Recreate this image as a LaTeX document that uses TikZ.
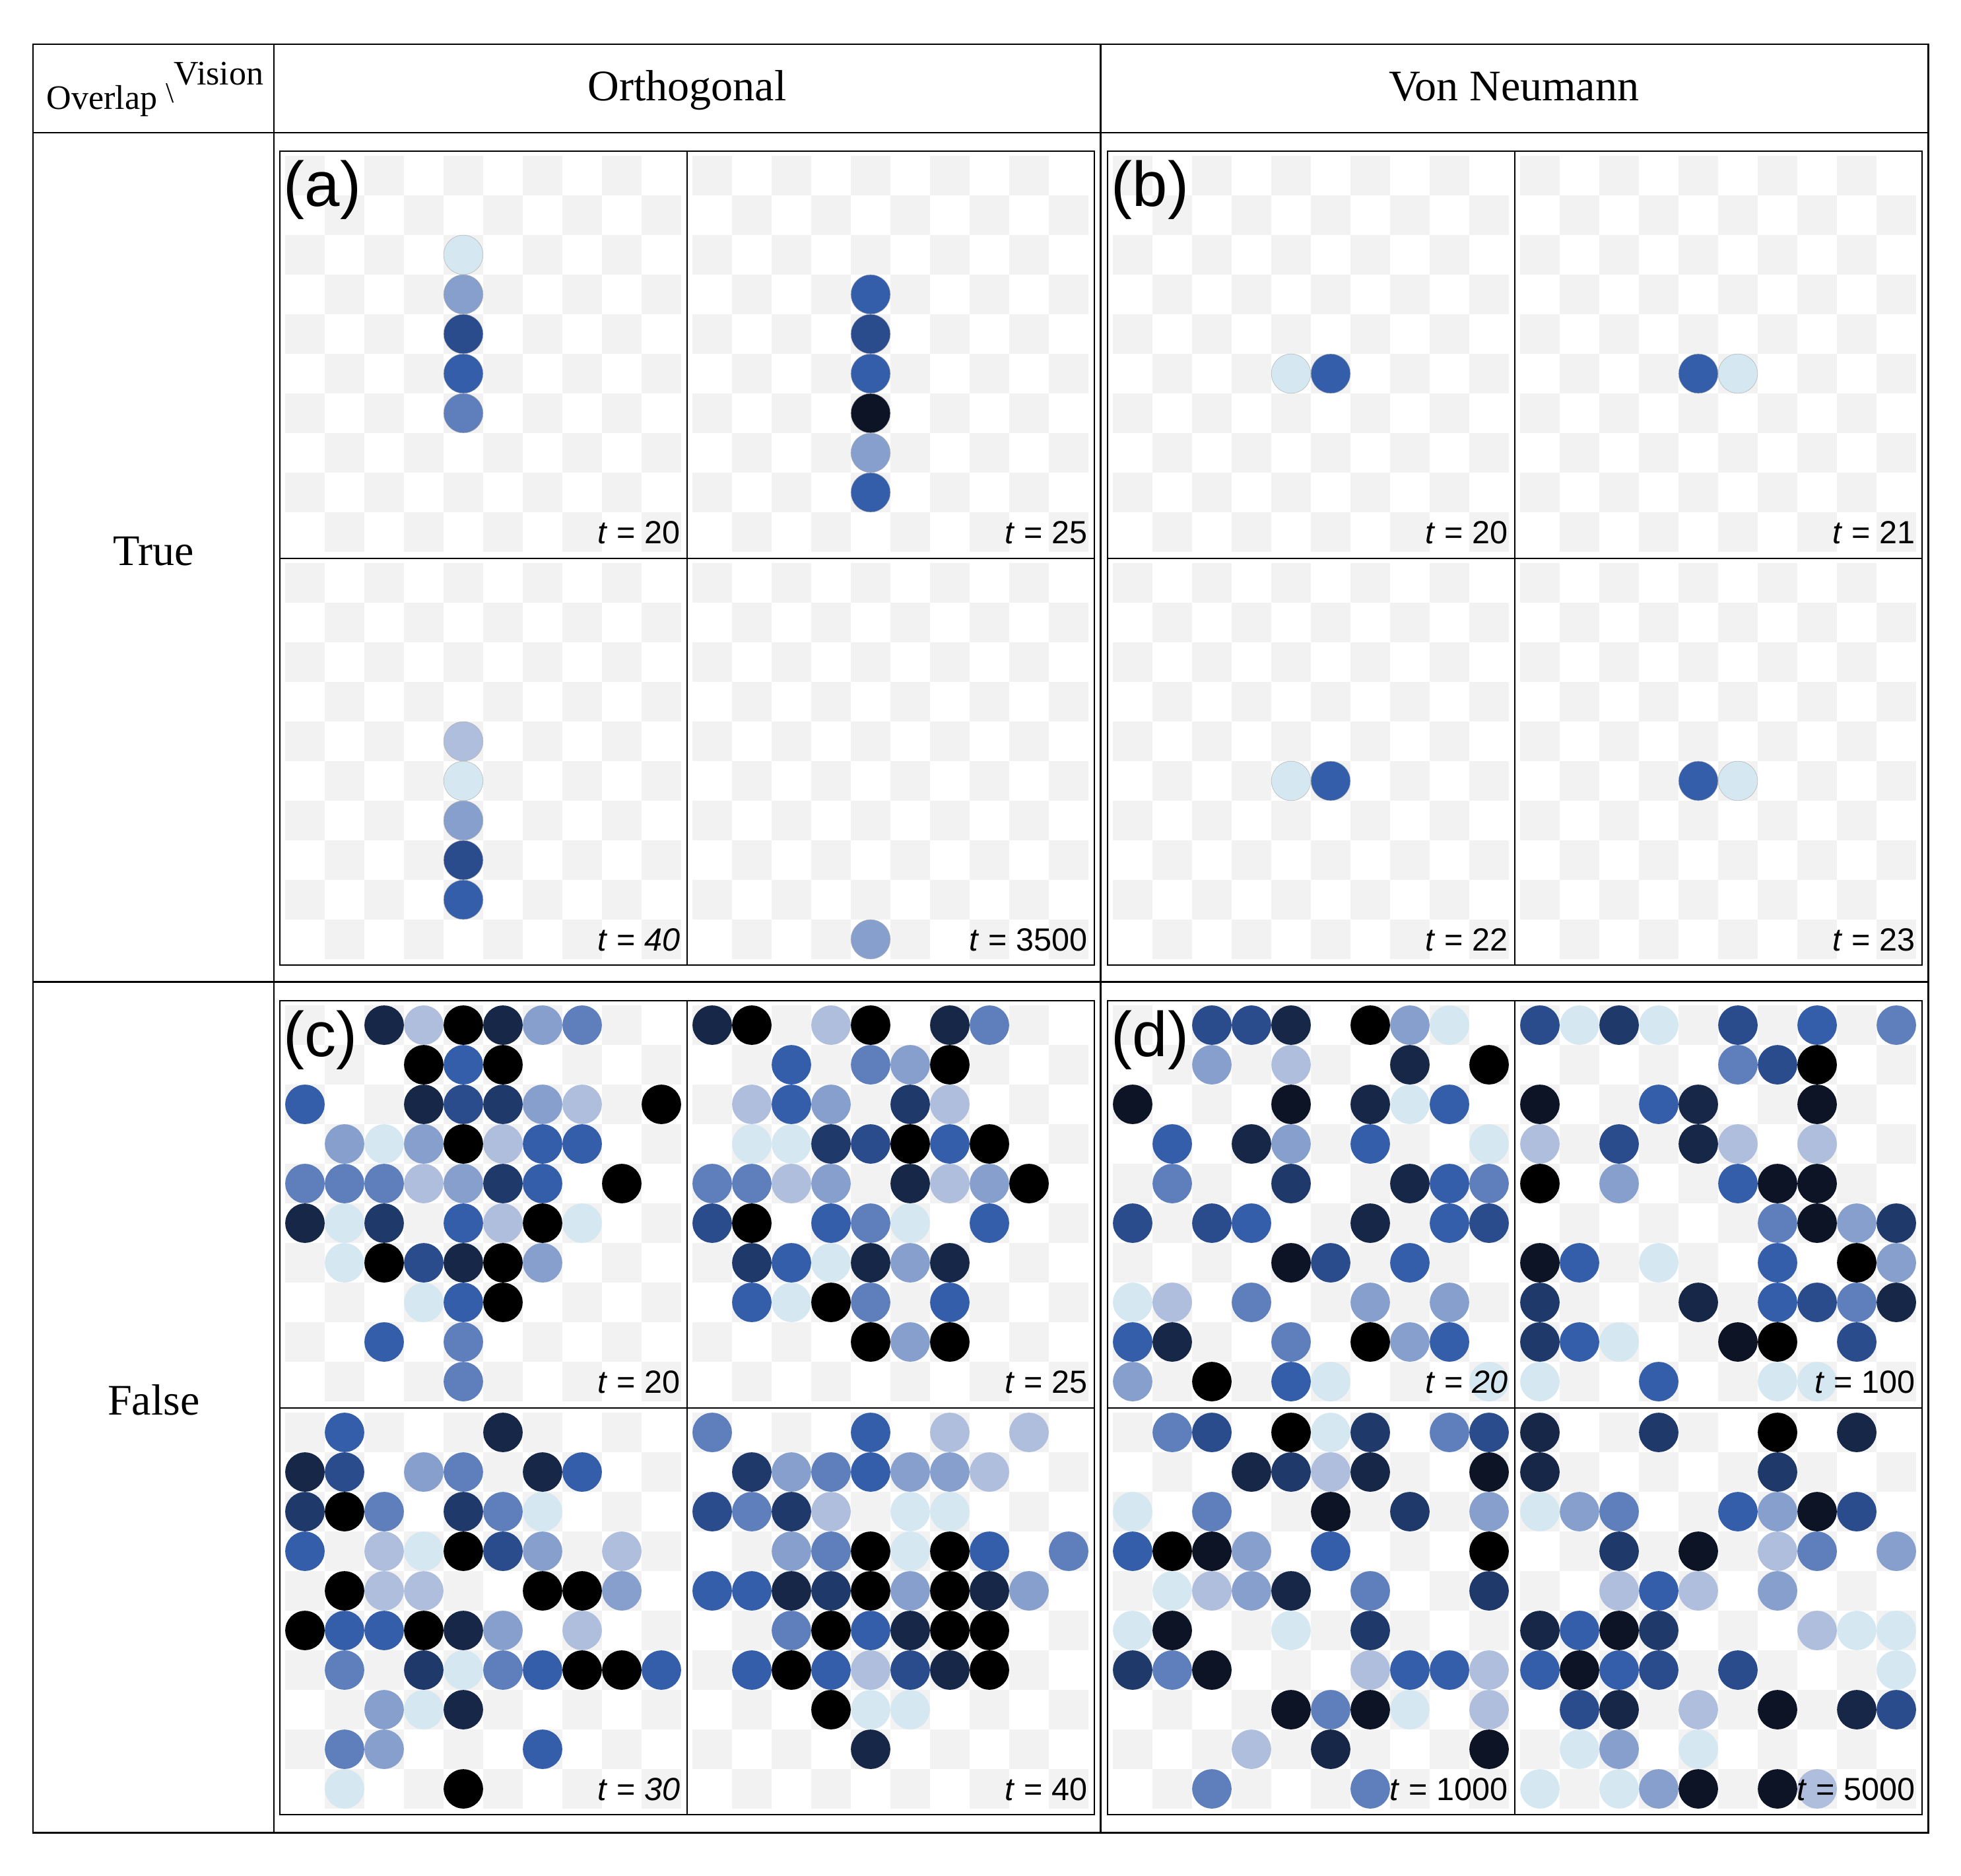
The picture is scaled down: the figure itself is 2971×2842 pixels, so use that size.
\documentclass[tikz,border=0pt]{standalone}
\usepackage{fontspec}
\setmainfont{Liberation Serif}
\newfontfamily\arial{Liberation Sans}
\definecolor{chkgray}{RGB}{242,242,242}
\definecolor{c0}{RGB}{213,231,241}
\definecolor{c1}{RGB}{175,190,221}
\definecolor{c2}{RGB}{134,159,204}
\definecolor{c3}{RGB}{94,127,188}
\definecolor{c4}{RGB}{52,94,169}
\definecolor{c5}{RGB}{42,76,140}
\definecolor{c6}{RGB}{31,57,107}
\definecolor{c7}{RGB}{22,39,72}
\definecolor{c8}{RGB}{12,20,38}
\definecolor{c9}{RGB}{0,0,0}
\newcommand\mkchecker[2]{%
  \foreach \ri in {0,...,9}{%
    \foreach \ki in {0,...,4}{%
      \pgfmathtruncatemacro\cc{2*\ki+mod(\ri,2)}%
      \fill[chk] ({#1+\cc*60},{#2+\ri*60}) rectangle ++(60,60);
    }}}
\newcommand\mkdots[4]{%
  \foreach \ri/\ci/\li in {#4}{%
    \fill[c\li,#3] ({#1+\ci*60+30},{#2+\ri*60+30}) circle[radius=0.298cm];
  }}
\begin{document}
\begin{tikzpicture}[x=0.01cm,y=-0.01cm,
  chk/.style={fill=chkgray},
  tbl/.style={line width=0.85pt,draw=black},
  blk/.style={line width=0.71pt,draw=black},
  div/.style={line width=0.57pt,draw=black},
  thin/.style={draw=black!30,line width=0.15pt},
  nothin/.style={},
  hdr/.style={font=\fontsize{18.8}{22}\selectfont,inner sep=0pt,anchor=base},
  small/.style={font=\fontsize{14.8}{17}\selectfont,inner sep=0pt,anchor=base west},
  lab/.style={font=\arial\fontsize{27.3}{30}\selectfont,inner sep=0pt,anchor=base west},
  tlab/.style={font=\arial\fontsize{13.8}{16}\selectfont,inner sep=0pt,anchor=base east}]
\useasboundingbox (0,0) rectangle (2971,2842);

% ---------- checkerboards ----------
\foreach \px/\py in {432/236,1049/236,432/853,1049/853,
                     1686/236,2303/236,1686/853,2303/853,
                     432/1523,1049/1523,432/2140,1049/2140,
                     1686/1523,2303/1523,1686/2140,2303/2140}{
  \mkchecker{\px}{\py}
}

% ---------- (a) ----------
\mkdots{432}{236}{thin}{2/4/0,3/4/2,4/4/5,5/4/4,6/4/3}
\mkdots{1049}{236}{thin}{3/4/4,4/4/5,5/4/4,6/4/8,7/4/2,8/4/4}
\mkdots{432}{853}{thin}{4/4/1,5/4/0,6/4/2,7/4/5,8/4/4}
\mkdots{1049}{853}{thin}{9/4/2}
% ---------- (b) ----------
\mkdots{1686}{236}{thin}{5/4/0,5/5/4}
\mkdots{2303}{236}{thin}{5/4/4,5/5/0}
\mkdots{1686}{853}{thin}{5/4/0,5/5/4}
\mkdots{2303}{853}{thin}{5/4/4,5/5/0}
% ---------- (c) ----------
\mkdots{432}{1523}{nothin}{0/2/7,0/3/1,0/4/9,0/5/7,0/6/2,0/7/3,
 1/3/9,1/4/4,1/5/9,
 2/0/4,2/3/7,2/4/5,2/5/6,2/6/2,2/7/1,2/9/9,
 3/1/2,3/2/0,3/3/2,3/4/9,3/5/1,3/6/4,3/7/4,
 4/0/3,4/1/3,4/2/3,4/3/1,4/4/2,4/5/6,4/6/4,4/8/9,
 5/0/7,5/1/0,5/2/6,5/4/4,5/5/1,5/6/9,5/7/0,
 6/1/0,6/2/9,6/3/5,6/4/7,6/5/9,6/6/2,
 7/3/0,7/4/4,7/5/9,
 8/2/4,8/4/3,
 9/4/3}
\mkdots{1049}{1523}{nothin}{0/0/7,0/1/9,0/3/1,0/4/9,0/6/7,0/7/3,
 1/2/4,1/4/3,1/5/2,1/6/9,
 2/1/1,2/2/4,2/3/2,2/5/6,2/6/1,
 3/1/0,3/2/0,3/3/6,3/4/5,3/5/9,3/6/4,3/7/9,
 4/0/3,4/1/3,4/2/1,4/3/2,4/5/7,4/6/1,4/7/2,4/8/9,
 5/0/5,5/1/9,5/3/4,5/4/3,5/5/0,5/7/4,
 6/1/6,6/2/4,6/3/0,6/4/7,6/5/2,6/6/7,
 7/1/4,7/2/0,7/3/9,7/4/3,7/6/4,
 8/4/9,8/5/2,8/6/9}
\mkdots{432}{2140}{nothin}{0/1/4,0/5/7,
 1/0/7,1/1/5,1/3/2,1/4/3,1/6/7,1/7/4,
 2/0/6,2/1/9,2/2/3,2/4/6,2/5/3,2/6/0,
 3/0/4,3/2/1,3/3/0,3/4/9,3/5/5,3/6/2,3/8/1,
 4/1/9,4/2/1,4/3/1,4/6/9,4/7/9,4/8/2,
 5/0/9,5/1/4,5/2/4,5/3/9,5/4/7,5/5/2,5/7/1,
 6/1/3,6/3/6,6/4/0,6/5/3,6/6/4,6/7/9,6/8/9,6/9/4,
 7/2/2,7/3/0,7/4/7,
 8/1/3,8/2/2,8/6/4,
 9/1/0,9/4/9}
\mkdots{1049}{2140}{nothin}{0/0/3,0/4/4,0/6/1,0/8/1,
 1/1/6,1/2/2,1/3/3,1/4/4,1/5/2,1/6/2,1/7/1,
 2/0/5,2/1/3,2/2/6,2/3/1,2/5/0,2/6/0,
 3/2/2,3/3/3,3/4/9,3/5/0,3/6/9,3/7/4,3/9/3,
 4/0/4,4/1/4,4/2/7,4/3/6,4/4/9,4/5/2,4/6/9,4/7/7,4/8/2,
 5/2/3,5/3/9,5/4/4,5/5/7,5/6/9,5/7/9,
 6/1/4,6/2/9,6/3/4,6/4/1,6/5/5,6/6/7,6/7/9,
 7/3/9,7/4/0,7/5/0,
 8/4/7}
% ---------- (d) ----------
\mkdots{1686}{1523}{nothin}{0/2/5,0/3/5,0/4/7,0/6/9,0/7/2,0/8/0,
 1/2/2,1/4/1,1/7/7,1/9/9,
 2/0/8,2/4/8,2/6/7,2/7/0,2/8/4,
 3/1/4,3/3/7,3/4/2,3/6/4,3/9/0,
 4/1/3,4/4/6,4/7/7,4/8/4,4/9/3,
 5/0/5,5/2/5,5/3/4,5/6/7,5/8/4,5/9/5,
 6/4/8,6/5/5,6/7/4,
 7/0/0,7/1/1,7/3/3,7/6/2,7/8/2,
 8/0/4,8/1/7,8/4/3,8/6/9,8/7/2,8/8/4,
 9/0/2,9/2/9,9/4/4,9/5/0,9/9/0}
\mkdots{2303}{1523}{nothin}{0/0/5,0/1/0,0/2/6,0/3/0,0/5/5,0/7/4,0/9/3,
 1/5/3,1/6/5,1/7/9,
 2/0/8,2/3/4,2/4/7,2/7/8,
 3/0/1,3/2/5,3/4/7,3/5/1,3/7/1,
 4/0/9,4/2/2,4/5/4,4/6/8,4/7/8,
 5/6/3,5/7/8,5/8/2,5/9/6,
 6/0/8,6/1/4,6/3/0,6/6/4,6/8/9,6/9/2,
 7/0/6,7/4/7,7/6/4,7/7/5,7/8/3,7/9/7,
 8/0/6,8/1/4,8/2/0,8/5/8,8/6/9,8/8/5,
 9/0/0,9/3/4,9/6/0,9/7/0}
\mkdots{1686}{2140}{nothin}{0/1/3,0/2/5,0/4/9,0/5/0,0/6/6,0/8/3,0/9/5,
 1/3/7,1/4/6,1/5/1,1/6/7,1/9/8,
 2/0/0,2/2/3,2/5/8,2/7/6,2/9/2,
 3/0/4,3/1/9,3/2/8,3/3/2,3/5/4,3/9/9,
 4/1/0,4/2/1,4/3/2,4/4/7,4/6/3,4/9/6,
 5/0/0,5/1/8,5/4/0,5/6/6,
 6/0/6,6/1/3,6/2/8,6/6/1,6/7/4,6/8/4,6/9/1,
 7/4/8,7/5/3,7/6/8,7/7/0,7/9/1,
 8/3/1,8/5/7,8/9/8,
 9/2/3,9/6/3}
\mkdots{2303}{2140}{nothin}{0/0/7,0/3/6,0/6/9,0/8/7,
 1/0/7,1/6/6,
 2/0/0,2/1/2,2/2/3,2/5/4,2/6/2,2/7/8,2/8/5,
 3/2/6,3/4/8,3/6/1,3/7/3,3/9/2,
 4/2/1,4/3/4,4/4/1,4/6/2,
 5/0/7,5/1/4,5/2/8,5/3/6,5/7/1,5/8/0,5/9/0,
 6/0/4,6/1/8,6/2/4,6/3/5,6/5/5,6/9/0,
 7/1/5,7/2/7,7/4/1,7/6/8,7/8/7,7/9/5,
 8/1/0,8/2/2,8/4/0,
 9/0/0,9/2/0,9/3/2,9/4/8,9/6/8,9/7/1}

% ---------- block frames ----------
\foreach \bx/\by in {424/229,1678/229,424/1516,1678/1516}{
  \draw[blk] (\bx,\by) rectangle ++(1234,1233);
  \draw[div] ({\bx+617},\by) -- ++(0,1233);
  \draw[div] (\bx,{\by+617}) -- ++(1234,0);
}

% ---------- panel labels ----------
\node[lab] (la) at (429,312) {(a)};
\node[lab] (lb) at (1683,312) {(b)};
\node[lab] (lc) at (429,1600) {(c)};
\node[lab] (ld) at (1683,1600) {(d)};

\node[tlab] (ta1) at (1031,823) {\textit{t} = 20};
\node[tlab] (ta2) at (1648,823) {\textit{t} = 25};
\node[tlab] (ta3) at (1031,1440) {\textit{t} = \textit{40}};
\node[tlab] (ta4) at (1648,1440) {\textit{t} = 3500};
\node[tlab] (tb1) at (2285,823) {\textit{t} = 20};
\node[tlab] (tb2) at (2902,823) {\textit{t} = 21};
\node[tlab] (tb3) at (2285,1440) {\textit{t} = 22};
\node[tlab] (tb4) at (2902,1440) {\textit{t} = 23};
\node[tlab] (tc1) at (1031,2110) {\textit{t} = 20};
\node[tlab] (tc2) at (1648,2110) {\textit{t} = 25};
\node[tlab] (tc3) at (1031,2727) {\textit{t} = \textit{30}};
\node[tlab] (tc4) at (1648,2727) {\textit{t} = 40};
\node[tlab] (td1) at (2285,2110) {\textit{t} = \textit{20}};
\node[tlab] (td2) at (2902,2110) {\textit{t} = 100};
\node[tlab] (td3) at (2285,2727) {\textit{t} = 1000};
\node[tlab] (td4) at (2902,2727) {\textit{t} = 5000};

% ---------- table ----------
\draw[tbl] (50,67) rectangle (2921,2776);
\draw[tbl] (415,67) -- (415,2776);
\draw[tbl] (1667,67) -- (1667,2776);
\draw[tbl] (50,201) -- (2921,201);
\draw[tbl] (50,1487) -- (2921,1487);

\node[hdr] (hOrth) at (1041,152) {Orthogonal};
\node[hdr] (hVon) at (2294,152) {Von Neumann};
\node[hdr] (rTrue) at (233,856) {True};
\node[hdr] (rFalse) at (233,2143) {False};
\node[small] (hOver) at (70,166) {Overlap};
\node[font=\fontsize{12.5}{14}\selectfont,inner sep=0pt,anchor=base west] (hBs) at (251,155) {\textbackslash};
\node[small] (hVis) at (263,128) {Vision};
\end{tikzpicture}
\end{document}
